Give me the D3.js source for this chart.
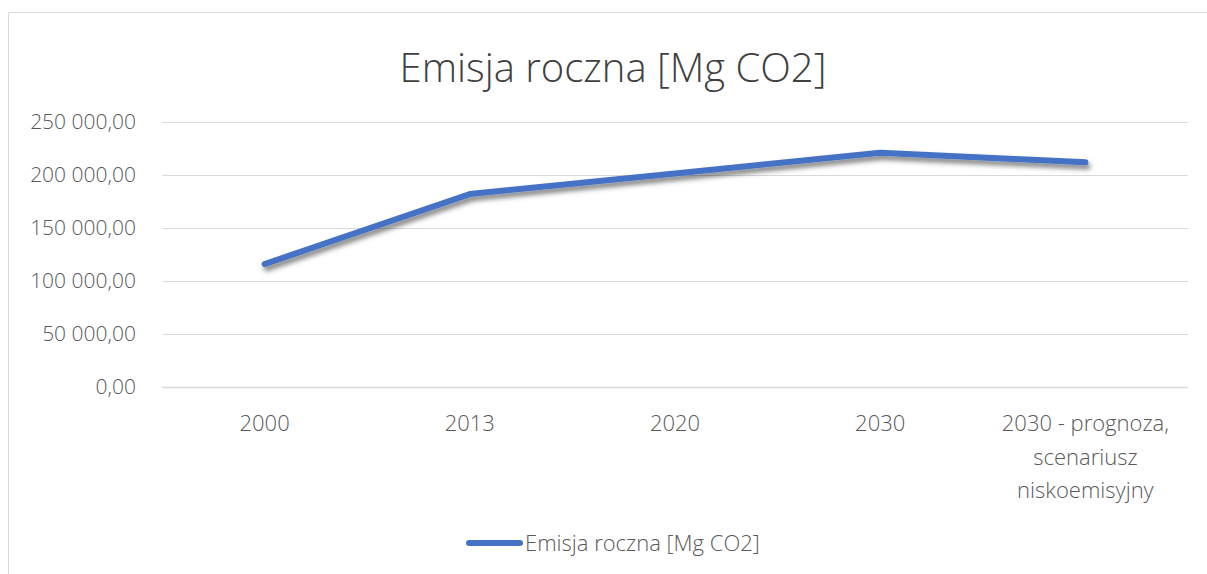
<!DOCTYPE html>
<html>
<head>
<meta charset="utf-8">
<script src="https://cdn.jsdelivr.net/npm/d3@7"></script>
<style>
  body { margin: 0; background: #fff; }
  text { font-family: "Open Sans", "Noto Sans", sans-serif; }
</style>
</head>
<body>
<script>
// chart values
let categories = ["2000", "2013", "2020", "2030", "2030 - prognoza, scenariusz niskoemisyjny"];
let emisja = [116000, 182000, 201500, 221000, 212000];
let yTicks = [0, 50000, 100000, 150000, 200000, 250000];
let title = "Emisja roczna [Mg CO2]";
let seriesName = "Emisja roczna [Mg CO2]";

var width = 1207, height = 574;
var margin = {top: 122, right: 19, bottom: 187, left: 162};

var svg = d3.select("body")
  .append("svg")
  .attr("width", width)
  .attr("height", height);

// shadow under the line
var defs = svg.append("defs");
var f = defs.append("filter")
  .attr("id", "shadow")
  .attr("x", "-10%").attr("y", "-30%")
  .attr("width", "120%").attr("height", "160%");
f.append("feDropShadow")
  .attr("dx", 2).attr("dy", 4)
  .attr("stdDeviation", 2.5)
  .attr("flood-color", "#000")
  .attr("flood-opacity", 0.5);

// outer chart frame
svg.append("path")
  .attr("d", "M8.5," + height + "V12.5H" + width)
  .attr("fill", "none")
  .attr("stroke", "#d9d9d9")
  .attr("stroke-width", 1);

var x = d3.scaleBand()
  .domain(categories)
  .range([margin.left, width - margin.right]);

var y = d3.scaleLinear()
  .domain([0, 250000])
  .range([height - margin.bottom, margin.top]);

var fmt = function(v) {
  var s = d3.format(",.2f")(v);
  return s.replace(/,/g, " ").replace(".", ",");
};

// gridlines
svg.append("g")
  .selectAll("line")
  .data(yTicks)
  .enter()
  .append("line")
  .attr("x1", margin.left)
  .attr("x2", width - margin.right)
  .attr("y1", function(d) { return Math.round(y(d)) + 0.5; })
  .attr("y2", function(d) { return Math.round(y(d)) + 0.5; })
  .attr("stroke", "#d9d9d9")
  .attr("stroke-width", function(d) { return d === 0 ? 1.5 : 1; });

// y axis labels
var yAxis = d3.axisLeft(y).tickValues(yTicks).tickFormat(fmt).tickSize(0).tickPadding(0);
var gy = svg.append("g")
  .attr("transform", "translate(136,0)")
  .call(yAxis);
gy.select(".domain").remove();
gy.selectAll("text")
  .attr("fill", "#595959")
  .style("font-size", "21px")
  .style("font-weight", 300);

// x axis labels (wrapped)
var xLines = {
  "2030 - prognoza, scenariusz niskoemisyjny": ["2030 - prognoza,", "scenariusz", "niskoemisyjny"]
};
var gx = svg.append("g");
gx.selectAll("text")
  .data(categories)
  .enter()
  .append("text")
  .attr("x", function(d) { return x(d) + x.bandwidth() / 2; })
  .attr("y", 431)
  .attr("text-anchor", "middle")
  .attr("fill", "#595959")
  .style("font-size", "22px")
  .style("font-weight", 300)
  .each(function(d) {
    var lines = xLines[d] || [d];
    var t = d3.select(this);
    lines.forEach(function(l, i) {
      t.append("tspan")
        .attr("x", x(d) + x.bandwidth() / 2)
        .attr("dy", i === 0 ? 0 : 33.5)
        .text(l);
    });
  });

// line
var line = d3.line()
  .x(function(d, i) { return x(categories[i]) + x.bandwidth() / 2; })
  .y(function(d) { return y(d); });

svg.append("path")
  .datum(emisja)
  .attr("d", line)
  .attr("fill", "none")
  .attr("stroke", "#4472c4")
  .attr("stroke-width", 6)
  .attr("stroke-linecap", "round")
  .attr("stroke-linejoin", "round")
  .attr("filter", "url(#shadow)");

// title
svg.append("text")
  .attr("x", 613)
  .attr("y", 82)
  .attr("text-anchor", "middle")
  .attr("fill", "#404040")
  .style("font-size", "40px")
  .style("font-weight", 300)
  .text(title);

// legend
var lg = svg.append("g");
lg.append("line")
  .attr("x1", 469).attr("x2", 520)
  .attr("y1", 543).attr("y2", 543)
  .attr("stroke", "#4472c4")
  .attr("stroke-width", 6)
  .attr("stroke-linecap", "round");
lg.append("text")
  .attr("x", 525)
  .attr("y", 551)
  .attr("fill", "#595959")
  .style("font-size", "22px")
  .style("font-weight", 300)
  .text(seriesName);
</script>
</body>
</html>
